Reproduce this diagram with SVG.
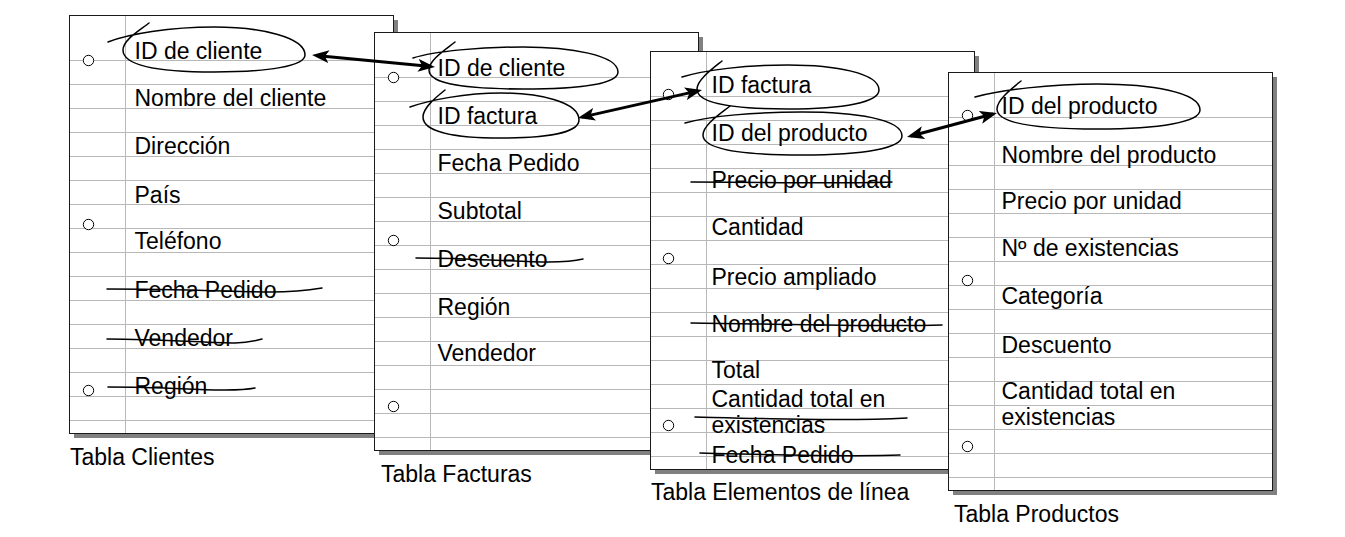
<svg xmlns="http://www.w3.org/2000/svg" xmlns:xlink="http://www.w3.org/1999/xlink" width="1345" height="537" viewBox="0 0 1345 537">
<style>
.shadow{fill:#808080}
.paper{fill:#fff}
.border{fill:none;stroke:#1a1a1a;stroke-width:1}
.rule{fill:none;stroke:#b8b8b8;stroke-width:1}
.hole{fill:#fff;stroke:#000;stroke-width:1}
.t{font-family:"Liberation Sans",Arial,Helvetica,sans-serif;font-size:23px;fill:#000}
.pen{fill:none;stroke:#000;stroke-width:1.5;stroke-linecap:round;stroke-linejoin:round}
.link{fill:none;stroke:#000;stroke-width:3}
</style>
<defs>
<path id="rules" class="rule" d="M0 45H324M0 69H324M0 93H324M0 117H324M0 141H324M0 165H324M0 189H324M0 213H324M0 237H324M0 261H324M0 285H324M0 309H324M0 333H324M0 357H324M0 381H324M0 405H324"/>
<marker id="ah" markerUnits="userSpaceOnUse" markerWidth="17" markerHeight="13" viewBox="0 0 17 13" refX="13" refY="6.5" orient="auto-start-reverse">
<path d="M0,0 L17,6.5 L0,13 L4,6.5 z" fill="#000"/>
</marker>
</defs>

<g id="tabla-clientes">
<g transform="translate(69.5,15.5)">
<rect class="shadow" x="4.5" y="4.5" width="324" height="418"/>
<rect class="paper" x="0" y="0" width="324" height="418"/>
<use xlink:href="#rules" href="#rules"/>
<line class="rule" x1="56" y1="0" x2="56" y2="418"/>
<rect class="border" x="0" y="0" width="324" height="418"/>
<circle class="hole" cx="19" cy="45" r="5.2"/>
<circle class="hole" cx="19" cy="209" r="5.2"/>
<circle class="hole" cx="19" cy="375" r="5.2"/>
<text class="t" x="65" y="43">ID de cliente</text>
<text class="t" x="65" y="90">Nombre del cliente</text>
<text class="t" x="65" y="138">Dirección</text>
<text class="t" x="65" y="187">País</text>
<text class="t" x="65" y="233">Teléfono</text>
<text class="t" x="65" y="282">Fecha Pedido</text>
<text class="t" x="65" y="330">Vendedor</text>
<text class="t" x="65" y="378">Región</text>
</g>
<path class="pen" d="M149,23 C139,31 123,40 123,50 C123,66 160,72 214,72 C268,72 305,66 305,55 C305,37 260,27 214,27 C170,27 128,34 108,42"/>
<path class="pen" d="M107,289 C180,289 240,292 270,292 C295,292 310,290 322,288"/>
<path class="pen" d="M107,339 C160,339 210,343 235,343 C248,343 255,341 262,339"/>
<path class="pen" d="M108,387 C160,387 200,390 225,390 C240,390 250,389 255,388"/>
<text class="t" x="70" y="465">Tabla Clientes</text>
</g>

<g id="tabla-facturas">
<g transform="translate(374.5,32.5)">
<rect class="shadow" x="4.5" y="4.5" width="324" height="418"/>
<rect class="paper" x="0" y="0" width="324" height="418"/>
<use xlink:href="#rules" href="#rules"/>
<line class="rule" x1="56" y1="0" x2="56" y2="418"/>
<rect class="border" x="0" y="0" width="324" height="418"/>
<circle class="hole" cx="19" cy="45" r="5.2"/>
<circle class="hole" cx="19" cy="208" r="5.2"/>
<circle class="hole" cx="19" cy="374" r="5.2"/>
<text class="t" x="63" y="43">ID de cliente</text>
<text class="t" x="63" y="91">ID factura</text>
<text class="t" x="63" y="138">Fecha Pedido</text>
<text class="t" x="63" y="186">Subtotal</text>
<text class="t" x="63" y="234">Descuento</text>
<text class="t" x="63" y="282">Región</text>
<text class="t" x="63" y="328">Vendedor</text>
</g>
<path class="pen" d="M455,42 C445,50 429,60 429,70 C429,85 470,89 523,89 C580,89 618,84 618,72 C618,55 570,47 523,47 C480,47 435,51 413,58"/>
<path class="pen" d="M445,90 C435,98 423,108 423,117 C423,132 455,138 501,138 C550,138 579,132 579,120 C579,102 540,93 501,93 C465,93 430,100 410,107"/>
<path class="pen" d="M416,258 C470,258 520,262 548,262 C565,262 575,261 583,259"/>
<text class="t" x="381" y="482">Tabla Facturas</text>
</g>

<g id="tabla-elementos">
<g transform="translate(650.5,51.5)">
<rect class="shadow" x="4.5" y="4.5" width="324" height="418"/>
<rect class="paper" x="0" y="0" width="324" height="418"/>
<use xlink:href="#rules" href="#rules"/>
<line class="rule" x1="56" y1="0" x2="56" y2="418"/>
<rect class="border" x="0" y="0" width="324" height="418"/>
<circle class="hole" cx="18" cy="43" r="5.2"/>
<circle class="hole" cx="18" cy="207" r="5.2"/>
<circle class="hole" cx="18" cy="374" r="5.2"/>
<text class="t" x="61" y="41">ID factura</text>
<text class="t" x="61" y="89">ID del producto</text>
<text class="t" x="61" y="136">Precio por unidad</text>
<text class="t" x="61" y="183">Cantidad</text>
<text class="t" x="61" y="233">Precio ampliado</text>
<text class="t" x="61" y="280">Nombre del producto</text>
<text class="t" x="61" y="326">Total</text>
<text class="t" x="61" y="355.5">Cantidad total en<tspan x="61" dy="26">existencias</tspan></text>
<text class="t" x="61" y="411">Fecha Pedido</text>
</g>
<path class="pen" d="M722,61 C712,69 697,80 697,89 C697,104 735,109 788,109 C845,109 879,102 879,90 C879,73 835,65 788,65 C745,65 705,70 682,77"/>
<path class="pen" d="M730,106 C720,114 703,125 703,135 C703,150 745,155 802,155 C865,155 902,148 902,136 C902,119 855,112 802,112 C755,112 710,116 685,123"/>
<path class="pen" d="M691,182 C760,182 840,184 892,182"/>
<path class="pen" d="M691,323 C780,324 880,327 942,325"/>
<path class="pen" d="M695,417 C780,419 850,421 907,418"/>
<path class="pen" d="M700,453 C780,455 850,457 900,455"/>
<text class="t" x="651" y="500">Tabla Elementos de línea</text>
</g>

<g id="tabla-productos">
<g transform="translate(948.5,72.5)">
<rect class="shadow" x="4.5" y="4.5" width="324" height="418"/>
<rect class="paper" x="0" y="0" width="324" height="418"/>
<use xlink:href="#rules" href="#rules"/>
<line class="rule" x1="46" y1="0" x2="46" y2="418"/>
<rect class="border" x="0" y="0" width="324" height="418"/>
<circle class="hole" cx="19" cy="43" r="5.2"/>
<circle class="hole" cx="19" cy="208" r="5.2"/>
<circle class="hole" cx="19" cy="374" r="5.2"/>
<text class="t" x="53" y="41">ID del producto</text>
<text class="t" x="53" y="90">Nombre del producto</text>
<text class="t" x="53" y="136">Precio por unidad</text>
<text class="t" x="53" y="183">Nº de existencias</text>
<text class="t" x="53" y="231">Categoría</text>
<text class="t" x="53" y="280">Descuento</text>
<text class="t" x="53" y="326.5">Cantidad total en<tspan x="53" dy="26">existencias</tspan></text>
</g>
<path class="pen" d="M1021,81 C1011,89 997,100 997,109 C997,124 1040,129 1098,129 C1160,129 1200,122 1200,110 C1200,92 1150,84 1098,84 C1050,84 1000,90 975,97"/>
<text class="t" x="954" y="522">Tabla Productos</text>
</g>

<g id="connectors">
<path class="link" d="M316,55.4 L431,66.6" marker-start="url(#ah)" marker-end="url(#ah)"/>
<path class="link" d="M581.9,117.1 L698.1,90.9" marker-start="url(#ah)" marker-end="url(#ah)"/>
<path class="link" d="M910.9,136 L993.1,114" marker-start="url(#ah)" marker-end="url(#ah)"/>
</g>
</svg>
